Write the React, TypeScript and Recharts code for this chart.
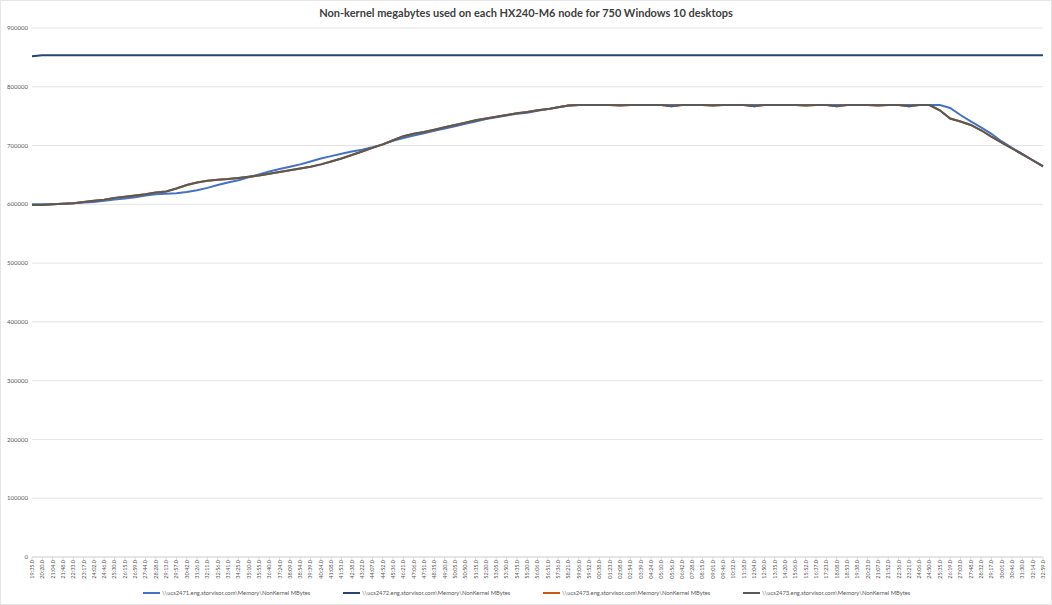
import React from 'react';
import { LineChart, Line, XAxis, YAxis, CartesianGrid, Legend } from 'recharts';

const times = [
  '19:35.0', '20:20.0', '21:04.0', '21:48.0', '22:33.0', '23:17.0', '24:02.0', '24:46.0', '25:30.0', '26:15.0',
  '26:59.0', '27:44.0', '28:28.0', '29:13.0', '29:57.0', '30:42.0', '31:26.0', '32:11.0', '32:56.0', '33:41.0',
  '34:25.0', '35:10.0', '35:55.0', '36:40.0', '37:24.0', '38:09.0', '38:54.0', '39:39.0', '40:24.0', '41:08.0',
  '41:53.0', '42:38.0', '43:22.0', '44:07.0', '44:52.0', '45:36.0', '46:21.0', '47:06.0', '47:51.0', '48:35.0',
  '49:20.0', '50:05.0', '50:50.0', '51:35.0', '52:20.0', '53:05.0', '53:50.0', '54:35.0', '55:20.0', '56:06.0',
  '56:51.0', '57:36.0', '58:21.0', '59:06.0', '59:52.0', '00:38.0', '01:23.0', '02:08.0', '02:54.0', '03:39.0',
  '04:24.0', '05:10.0', '05:56.0', '06:42.0', '07:28.0', '08:15.0', '09:01.0', '09:46.0', '10:32.0', '11:18.0',
  '12:04.0', '12:50.0', '13:35.0', '14:20.0', '15:06.0', '15:52.0', '16:37.0', '17:23.0', '18:08.0', '18:53.0',
  '19:38.0', '20:23.0', '21:07.0', '21:52.0', '22:36.0', '23:21.0', '24:06.0', '24:50.0', '25:35.0', '26:19.0',
  '27:03.0', '27:48.0', '28:32.0', '29:17.0', '30:01.0', '30:46.0', '31:30.0', '32:14.0', '32:59.0',
];

const ucs2471 = [
  600000, 600000, 600000, 601000, 602000, 603000, 604000, 606000, 608000, 610000,
  612000, 615000, 617000, 618000, 619000, 621000, 624000, 628000, 633000, 637000,
  641000, 646000, 651000, 656000, 660000, 664000, 668000, 673000, 678000, 682000,
  686000, 690000, 693000, 697000, 702000, 708000, 713000, 717000, 721000, 725000,
  729000, 733000, 737000, 741000, 745000, 748000, 751000, 754000, 756000, 759000,
  762000, 765000, 768000, 769000, 769000, 769000, 769000, 769000, 769000, 769000,
  769000, 769000, 769000, 769000, 769000, 769000, 769000, 769000, 769000, 769000,
  769000, 769000, 769000, 769000, 769000, 769000, 769000, 769000, 769000, 769000,
  769000, 769000, 769000, 769000, 769000, 769000, 769000, 769000, 769000, 764000,
  752000, 741000, 731000, 720000, 707000, 696000, 686000, 675000, 664000,
];

const ucs2472 = [
  852000, 853500, 853500, 853500, 853500, 853500, 853500, 853500, 853500, 853500,
  853500, 853500, 853500, 853500, 853500, 853500, 853500, 853500, 853500, 853500,
  853500, 853500, 853500, 853500, 853500, 853500, 853500, 853500, 853500, 853500,
  853500, 853500, 853500, 853500, 853500, 853500, 853500, 853500, 853500, 853500,
  853500, 853500, 853500, 853500, 853500, 853500, 853500, 853500, 853500, 853500,
  853500, 853500, 853500, 853500, 853500, 853500, 853500, 853500, 853500, 853500,
  853500, 853500, 853500, 853500, 853500, 853500, 853500, 853500, 853500, 853500,
  853500, 853500, 853500, 853500, 853500, 853500, 853500, 853500, 853500, 853500,
  853500, 853500, 853500, 853500, 853500, 853500, 853500, 853500, 853500, 853500,
  853500, 853500, 853500, 853500, 853500, 853500, 853500, 853500, 853500,
];

const ucs2474 = [
  599000, 599000, 600000, 601000, 602000, 604000, 606000, 608000, 611000, 613000,
  615000, 617000, 620000, 622000, 627000, 633000, 637000, 640000, 642000, 643000,
  645000, 647000, 649000, 652000, 655000, 658000, 661000, 664000, 668000, 673000,
  678000, 684000, 690000, 696000, 702000, 709000, 716000, 720000, 723000, 727000,
  731000, 735000, 739000, 743000, 746000, 749000, 752000, 755000, 757000, 760000,
  762000, 765000, 768000, 769000, 769000, 769000, 769000, 768000, 769000, 769000,
  769000, 769000, 767000, 769000, 769000, 769000, 768000, 769000, 769000, 769000,
  767000, 769000, 769000, 769000, 769000, 768000, 769000, 769000, 767000, 769000,
  769000, 769000, 768000, 769000, 769000, 767000, 769000, 769000, 760000, 746000,
  741000, 735000, 726000, 715000, 705000, 695000, 685000, 675000, 665000,
];

// third node trace lies underneath the fourth one in the source picture
const ucs2473 = ucs2474;

const yTicks = [0, 100000, 200000, 300000, 400000, 500000, 600000, 700000, 800000, 900000];

const seriesInfo = [
  { key: 's1', name: '\\\\ucs2471.eng.storvisor.com\\Memory\\NonKernel MBytes', color: '#4472C4' },
  { key: 's2', name: '\\\\ucs2472.eng.storvisor.com\\Memory\\NonKernel MBytes', color: '#264478' },
  { key: 's3', name: '\\\\ucs2473.eng.storvisor.com\\Memory\\NonKernel MBytes', color: '#C55A11' },
  { key: 's4', name: '\\\\ucs2473.eng.storvisor.com\\Memory\\NonKernel MBytes', color: '#595959' },
];

const data = times.map((t, i) => ({
  t,
  s1: ucs2471[i],
  s2: ucs2472[i],
  s3: ucs2473[i],
  s4: ucs2474[i],
}));

const FONT = 'Lato, "Liberation Sans", sans-serif';

const XTick = (props: any) => {
  const { x, y, payload } = props;
  return (
    <text
      transform={`translate(${x},${y}) rotate(-90)`}
      textAnchor="end"
      dy="0.35em"
      fontSize={5.5}
      fill="#595959"
      fontFamily={FONT}
    >
      {payload.value}
    </text>
  );
};

const LegendContent = () => (
  <div style={{ position: 'relative', width: 1052, height: 24, fontFamily: FONT }}>
    {seriesInfo.map((s, i) => (
      <div
        key={s.key}
        style={{
          position: 'absolute',
          left: 143 + i * 200,
          top: 8,
          display: 'flex',
          alignItems: 'center',
          whiteSpace: 'nowrap',
        }}
      >
        <span style={{ display: 'inline-block', width: 17, height: 2, background: s.color, marginRight: 2 }} />
        <span style={{ fontSize: 5.8, color: '#595959' }}>{s.name}</span>
      </div>
    ))}
  </div>
);

export default function App() {
  return (
    <div style={{ position: 'absolute', left: 0, top: 0, width: 1052, height: 605, background: '#fff' }}>
      <div
        style={{
          position: 'absolute',
          left: 0,
          top: 6,
          width: 1052,
          textAlign: 'center',
          fontFamily: FONT,
          fontWeight: 700,
          fontSize: 11,
          color: '#404040',
          zIndex: 2,
        }}
      >
        Non-kernel megabytes used on each HX240-M6 node for 750 Windows 10 desktops
      </div>
      <LineChart width={1052} height={605} data={data} margin={{ top: 28, right: 9, left: 0, bottom: 0 }}>
        <CartesianGrid vertical={false} stroke="#e3e3e3" strokeWidth={1} />
        <XAxis
          dataKey="t"
          interval={0}
          height={24}
          tick={<XTick />}
          tickSize={3}
          tickMargin={0}
          axisLine={{ stroke: '#d9d9d9' }}
          tickLine={{ stroke: '#d9d9d9' }}
        />
        <YAxis
          domain={[0, 900000]}
          ticks={yTicks}
          width={32}
          axisLine={false}
          tickLine={false}
          tickSize={2}
          tickMargin={2}
          tick={{ fontSize: 6, fill: '#595959', fontFamily: FONT }}
        />
        <Legend verticalAlign="bottom" content={<LegendContent />} />
        {seriesInfo.map((s) => (
          <Line
            key={s.key}
            type="linear"
            dataKey={s.key}
            name={s.name}
            stroke={s.color}
            strokeWidth={2}
            dot={false}
            isAnimationActive={false}
          />
        ))}
      </LineChart>
      <div
        style={{
          position: 'absolute',
          left: 0,
          top: 0,
          width: 1052,
          height: 605,
          boxSizing: 'border-box',
          border: '1px solid #e6e6e6',
          pointerEvents: 'none',
        }}
      />
    </div>
  );
}
